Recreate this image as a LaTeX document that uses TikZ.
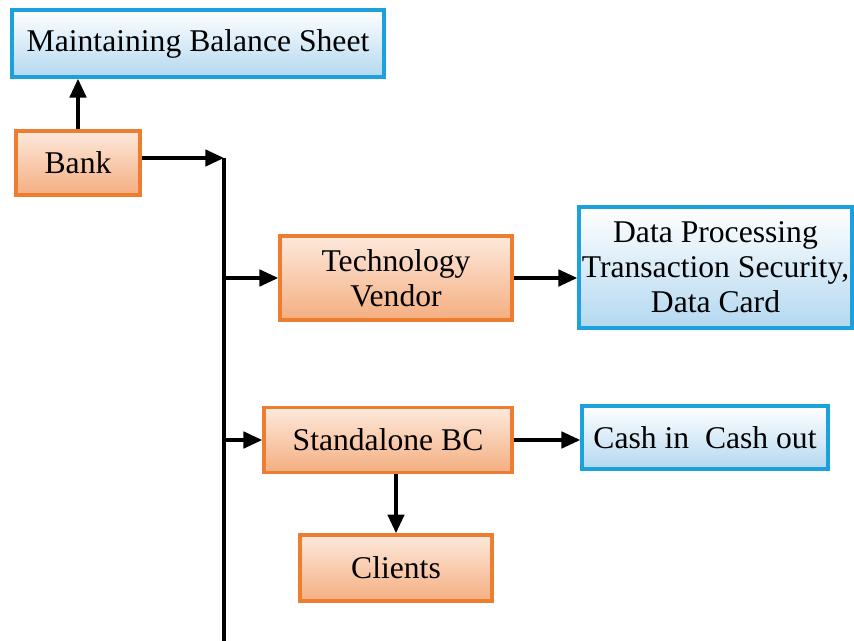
\documentclass[tikz,border=0pt]{standalone}
\usepackage{fontspec}
\setmainfont{Liberation Serif}
\usetikzlibrary{positioning,arrows.meta}
\definecolor{otop}{HTML}{FDE9DC}
\definecolor{obottom}{HTML}{F4AE80}
\definecolor{ostroke}{HTML}{ED7D31}
\definecolor{btop}{HTML}{FFFFFF}
\definecolor{bbottom}{HTML}{B3D8F0}
\definecolor{bstroke}{HTML}{1BA1DC}
\tikzset{
  orgbox/.style={rectangle, draw=ostroke, top color=otop, bottom color=obottom,
                 line width=3pt, inner sep=2pt, align=center,
                 font=\fontsize{27}{30}\selectfont},
  taskbox/.style={rectangle, draw=bstroke, top color=btop, bottom color=bbottom,
                  line width=3pt, inner sep=2pt, align=center,
                  font=\fontsize{27}{30}\selectfont},
  flowarrow/.style={-{Triangle[length=16pt,width=14pt]}, line width=3pt},
  trunkline/.style={line width=3pt}
}

\begin{document}
\begin{tikzpicture}[x=0.03cm, y=-0.03cm]
  \useasboundingbox (0,0) rectangle (854,641);

  % --- bank and its balance sheet ---
  \node[taskbox, minimum width=11.16cm, minimum height=2.01cm] (sheet) at (198,43.5) {Maintaining Balance Sheet};
  \node[orgbox, minimum width=3.72cm, minimum height=1.92cm] (bank) at (78,163) {Bank};
  \draw[flowarrow] (bank.north) -- (bank.north |- sheet.south);

  % --- trunk line ---
  \coordinate (trunktop) at (224,158);
  \coordinate (trunkbot) at (224,641);
  \draw[flowarrow] (bank.east |- trunktop) -- (trunktop);
  \draw[trunkline] (trunktop) -- (trunkbot);

  % --- technology vendor ---
  \node[orgbox, minimum width=6.96cm, minimum height=2.52cm] (vendor) at (396,278) {Technology\\Vendor};
  \node[taskbox, minimum width=8.19cm, minimum height=3.63cm] (data) at (715.5,267.5)
    {Data Processing\\Transaction Security,\\Data Card};
  \draw[flowarrow] (trunktop |- vendor) -- (vendor);
  \draw[flowarrow] (vendor) -- (vendor -| data.west);

  % --- standalone BC ---
  \node[orgbox, minimum width=7.44cm, minimum height=1.95cm] (standalone) at (388,440) {Standalone BC};
  \node[taskbox, minimum width=7.38cm, minimum height=1.89cm] (cash) at (705,437.5) {Cash in~ Cash out};
  \node[orgbox, minimum width=5.76cm, minimum height=1.98cm] (clients) at (396,568) {Clients};
  \draw[flowarrow] (trunktop |- standalone) -- (standalone);
  \draw[flowarrow] (standalone) -- (standalone -| cash.west);
  \draw[flowarrow] (standalone.south -| clients) -- (clients);

\end{tikzpicture}
\end{document}
